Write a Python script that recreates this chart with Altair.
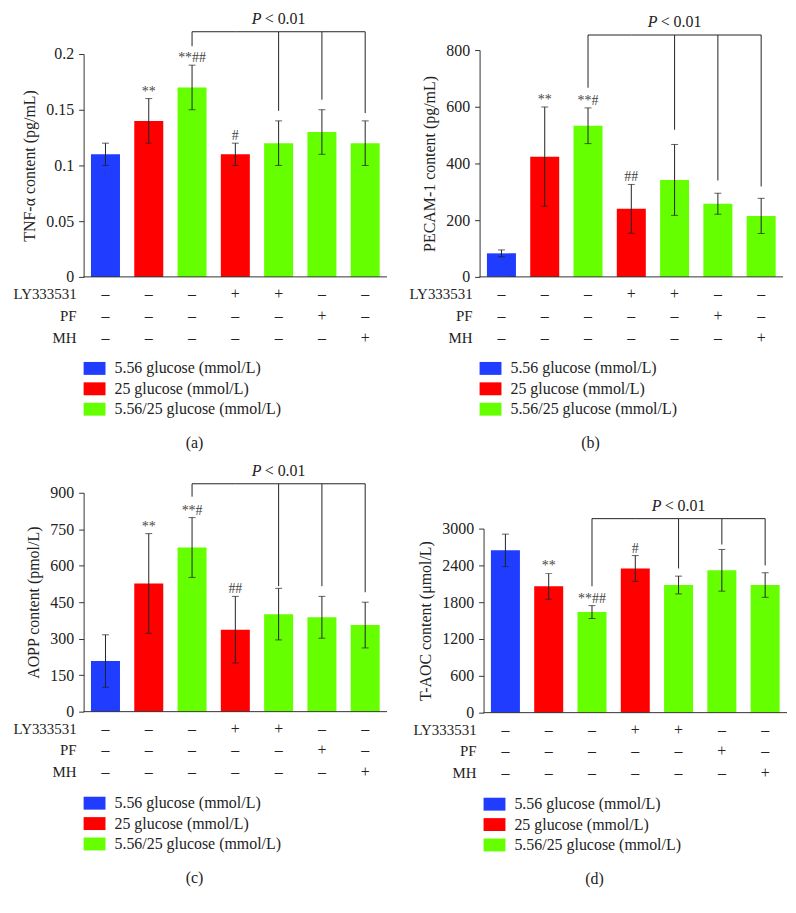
import altair as alt
import pandas as pd

FONT = "Liberation Serif"
INK = "#222222"

# ---------------- data ----------------
groups = ["G1", "G2", "G3", "G4", "G5", "G6", "G7"]
legend_labels = ["5.56 glucose (mmol/L)", "25 glucose (mmol/L)", "5.56/25 glucose (mmol/L)"]
colors = ["#1f3cff", "#ff0000", "#66ff00"]
group_cond = [legend_labels[0], legend_labels[1], legend_labels[2], legend_labels[1],
              legend_labels[2], legend_labels[2], legend_labels[2]]

treat_rows = ["LY333531", "PF", "MH"]
ly_signs = ["–", "–", "–", "+", "+", "–", "–"]
pf_signs = ["–", "–", "–", "–", "–", "+", "–"]
mh_signs = ["–", "–", "–", "–", "–", "–", "+"]

bracket_groups = ["G3", "G5", "G6", "G7"]

# (a) TNF-alpha
tnf_mean = [0.11, 0.14, 0.17, 0.11, 0.12, 0.13, 0.12]
tnf_err = [0.01, 0.02, 0.02, 0.01, 0.02, 0.02, 0.02]
tnf_sig = ["", "**", "**##", "#", "", "", ""]
tnf_ticks = [0, 0.05, 0.1, 0.15, 0.2]
tnf_bracket = 0.22
tnf_drop_end = [0.207, 0.149, 0.159, 0.147]

# (b) PECAM-1
pecam_mean = [83, 424, 533, 240, 342, 258, 215]
pecam_err = [12, 175, 63, 86, 125, 37, 62]
pecam_sig = ["", "**", "**#", "##", "", "", ""]
pecam_ticks = [0, 200, 400, 600, 800]
pecam_bracket = 853
pecam_drop_end = [667, 519, 340, 319]

# (c) AOPP
aopp_mean = [208, 527, 675, 337, 401, 388, 356]
aopp_err = [108, 205, 123, 137, 106, 86, 94]
aopp_sig = ["", "**", "**#", "##", "", "", ""]
aopp_ticks = [0, 150, 300, 450, 600, 750, 900]
aopp_bracket = 937
aopp_drop_end = [884, 516, 516, 491]

# (d) T-AOC
taoc_mean = [2645, 2060, 1640, 2350, 2080, 2320, 2080]
taoc_err = [265, 210, 105, 210, 145, 340, 200]
taoc_sig = ["", "**", "**##", "#", "", "", ""]
taoc_ticks = [0, 600, 1200, 1800, 2400, 3000]
taoc_bracket = 3162
taoc_drop_end = [2060, 2350, 2740, 2400]

W = 305


def panel(caption, ytitle, means, errs, sigs, ticks, fmt, bracket, drop_end, base, top):
    df = pd.DataFrame({
        "group": groups, "cond": group_cond, "mean": means,
        "lo": [m - e for m, e in zip(means, errs)],
        "hi": [m + e for m, e in zip(means, errs)],
        "sig": sigs,
    })
    yscale = alt.Scale(domain=[0, ticks[-1]], range=[base, top], nice=False, zero=False)
    yaxis = alt.Axis(values=ticks, format=fmt, title=ytitle, grid=False, tickSize=5,
                     labelPadding=5, titlePadding=8)
    xenc = alt.X("group:N", sort=groups, axis=None,
                 scale=alt.Scale(paddingInner=0.33, paddingOuter=0.17))
    color = alt.Color("cond:N", scale=alt.Scale(domain=legend_labels, range=colors), legend=None)

    def Y(field):
        return alt.Y(field, scale=yscale, axis=yaxis)

    c = alt.Chart(df)
    bars = c.mark_bar().encode(x=xenc, y=Y("mean:Q"), color=color)
    ebar = c.mark_rule(color=INK, strokeWidth=1).encode(x=xenc, y=Y("lo:Q"), y2="hi:Q")
    cap_hi = c.mark_tick(color=INK, size=7, thickness=1).encode(x=xenc, y=Y("hi:Q"))
    cap_lo = c.mark_tick(color=INK, size=7, thickness=1).encode(x=xenc, y=Y("lo:Q"))
    sig = c.mark_text(font=FONT, fontSize=14, color="#444444", baseline="alphabetic",
                      dy=-3).encode(x=xenc, y=Y("hi:Q"), text="sig:N")

    bdf = pd.DataFrame({"group": groups[2:], "level": [bracket] * 5})
    bline = alt.Chart(bdf).mark_line(color=INK, strokeWidth=1).encode(
        x=xenc, y=Y("level:Q"))
    ddf = pd.DataFrame({"group": bracket_groups, "end": drop_end,
                        "level": [bracket] * len(bracket_groups)})
    drops = alt.Chart(ddf).mark_rule(color=INK, strokeWidth=1).encode(
        x=xenc, y=Y("end:Q"), y2="level:Q")
    pdf = pd.DataFrame({"group": [groups[4]], "level": [bracket]})
    p1 = alt.Chart(pdf).mark_text(text="P", font=FONT, fontSize=16, fontStyle="italic",
                                  align="left", baseline="alphabetic", dx=-27, dy=-8,
                                  color=INK).encode(x=xenc, y=Y("level:Q"))
    p2 = alt.Chart(pdf).mark_text(text="< 0.01", font=FONT, fontSize=16, align="right",
                                  baseline="alphabetic", dx=27, dy=-8,
                                  color=INK).encode(x=xenc, y=Y("level:Q"))
    zdf = pd.DataFrame({"v": [0]})
    xline = alt.Chart(zdf).mark_rule(color="#333333", strokeWidth=1).encode(
        y=Y("v:Q"), x=alt.value(0), x2=alt.value(W))

    main = alt.layer(bars, ebar, cap_hi, cap_lo, sig, bline, drops, p1, p2, xline)

    # treatment table
    rows = []
    for r, signs in zip(treat_rows, [ly_signs, pf_signs, mh_signs]):
        for g, s in zip(groups, signs):
            rows.append({"group": g, "row": r, "sign": s})
    tdf = pd.DataFrame(rows)
    ty = alt.Y("row:N", sort=treat_rows, axis=None,
               scale=alt.Scale(type="point", range=[base + 17, base + 61], padding=0))
    signs_t = alt.Chart(tdf).mark_text(font=FONT, fontSize=16, color=INK).encode(
        x=xenc, y=ty, text="sign:N")
    heads = alt.Chart(pd.DataFrame({"row": treat_rows})).mark_text(
        font=FONT, fontSize=15, color=INK, align="right").encode(
        x=alt.value(-7), y=ty, text="row:N")
    table = alt.layer(signs_t, heads)

    # legend
    ldf = pd.DataFrame({"cond": legend_labels})
    ly = alt.Y("cond:N", sort=legend_labels, axis=None,
               scale=alt.Scale(type="point", range=[base + 92, base + 133], padding=0))
    sw = alt.Chart(ldf).mark_point(shape="M-1,-0.59H1V0.59H-1Z", size=484, filled=True,
                                   opacity=1, strokeWidth=0).encode(
        x=alt.value(11), y=ly, color=color)
    lt = alt.Chart(ldf).mark_text(font=FONT, fontSize=16, color=INK, align="left").encode(
        x=alt.value(31), y=ly, text="cond:N")
    legend = alt.layer(sw, lt)

    return alt.layer(main, table, legend).resolve_scale(y="independent").properties(
        width=W, height=base + 145,
        title=alt.TitleParams(caption, orient="bottom", anchor="middle", frame="bounds",
                              offset=14, dx=-6, font=FONT, fontSize=16,
                              fontWeight="normal", color=INK))


pa = panel("(a)", "TNF-α content (pg/mL)", tnf_mean, tnf_err, tnf_sig, tnf_ticks, "~g",
           tnf_bracket, tnf_drop_end, 266, 42)
pb = panel("(b)", "PECAM-1 content (pg/mL)", pecam_mean, pecam_err, pecam_sig, pecam_ticks,
           "d", pecam_bracket, pecam_drop_end, 266, 38)
pc = panel("(c)", "AOPP content (pmol/L)", aopp_mean, aopp_err, aopp_sig, aopp_ticks, "d",
           aopp_bracket, aopp_drop_end, 258, 38)
pd_ = panel("(d)", "T-AOC content (μmol/L)", taoc_mean, taoc_err, taoc_sig, taoc_ticks, "d",
            taoc_bracket, taoc_drop_end, 259, 74)

chart = alt.vconcat(
    alt.hconcat(pa, pb, spacing=21),
    alt.hconcat(pc, pd_, spacing=25),
    spacing=4,
).properties(
    padding={"left": 5, "top": 0, "right": 0, "bottom": 0}
).configure_view(stroke=None).configure_axis(
    labelFont=FONT, titleFont=FONT, labelFontSize=16, titleFontSize=16,
    labelColor=INK, titleColor=INK, titleFontWeight="normal",
    domainColor="#333333", tickColor="#333333"
)

chart.save("out.html", embed_options={"renderer": "svg", "actions": False})
